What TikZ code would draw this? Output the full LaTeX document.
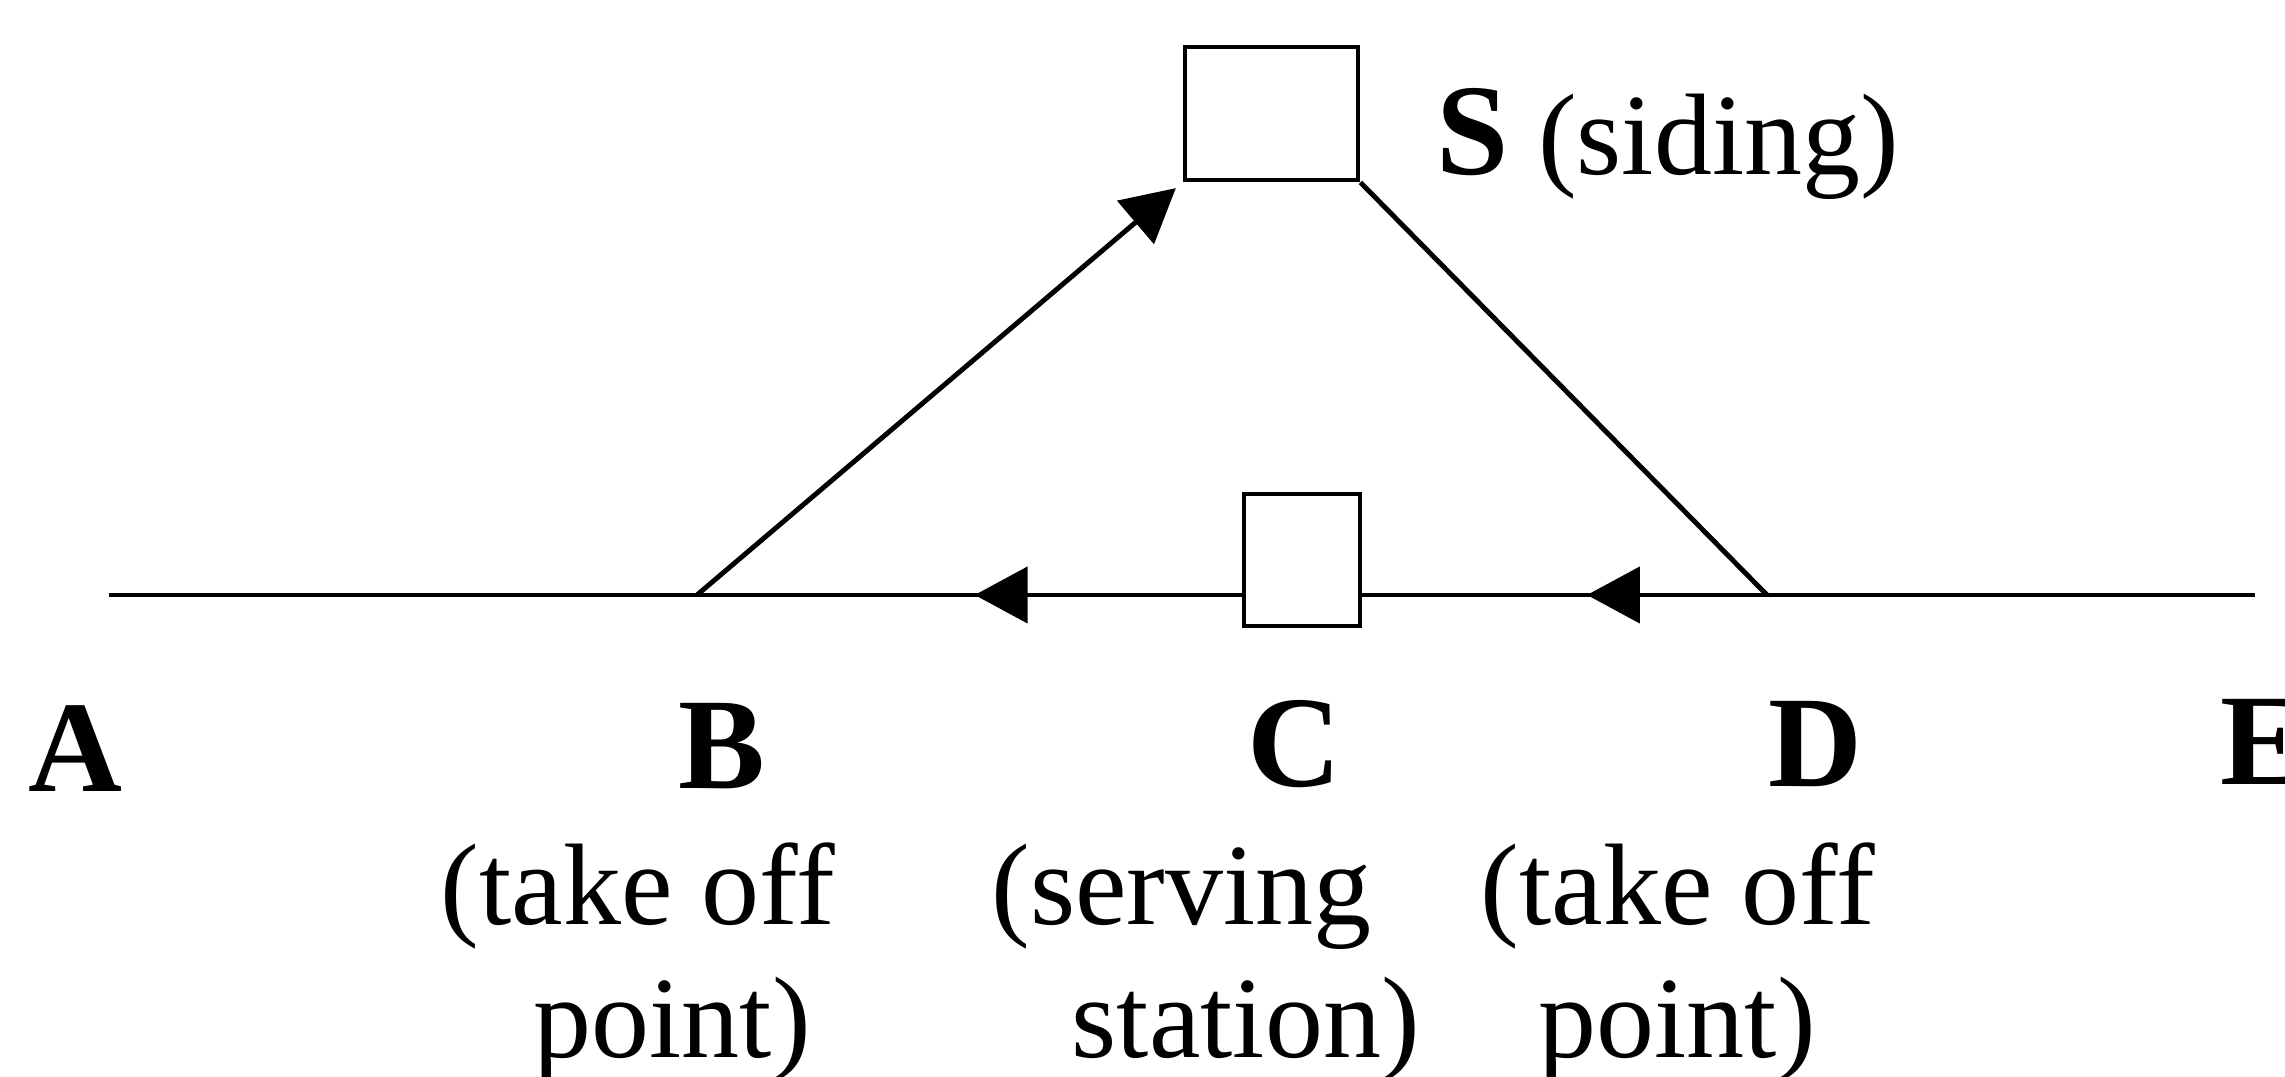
\documentclass[tikz,border=0pt]{standalone}
\usepackage{fontspec}
\setmainfont{Liberation Serif}
\usetikzlibrary{arrows.meta,decorations.markings}

\newcommand\ptfont{\fontsize{37}{40}\selectfont\bfseries}
\newcommand\notefont{\fontsize{33}{38}\selectfont}

\tikzset{
  track/.style={line width=1.4pt},
  stopbox/.style={draw,line width=1.4pt,fill=white,inner sep=0pt},
  ptlabel/.style={anchor=base,inner sep=0pt,font=\ptfont},
  notelabel/.style={anchor=base west,inner sep=0pt,align=left,font=\notefont},
  midarrow/.style={postaction={decorate},
    decoration={markings,mark=at position #1 with {\arrow{Triangle[length=0.53cm,width=0.56cm]}}}}
}

\begin{document}
\begin{tikzpicture}
                    \useasboundingbox (0,0) rectangle (22.85,10.77);

                    % main line and the two take off points
                    \coordinate (trackW) at (1.09,4.82);
                    \coordinate (junB) at (6.97,4.82);
                    \coordinate (junD) at (17.67,4.82);
                    \coordinate (trackE) at (22.55,4.82);

                    % siding and serving station
                    \node[stopbox,minimum width=1.73cm,minimum height=1.33cm] (sbox) at (12.715,9.635) {};
                    \node[stopbox,minimum width=1.16cm,minimum height=1.32cm] (cbox) at (13.02,5.17) {};

                    \draw[track] (trackW) -- (junB);
                    \draw[track,midarrow=0.49] (junB -| cbox.west) -- (junB);
                    \draw[track,midarrow=0.445] (junD) -- (junD -| cbox.east);
                    \draw[track] (junD) -- (trackE);

                    \draw[track,-{Triangle[length=0.53cm,width=0.56cm]},shorten >=2.5pt] (junB) -- (sbox.south west);
                    \draw[track] (sbox.south east) -- (junD);

                    % letters under the line
                    \node[ptlabel] (ptA) at (0.75,2.85) {A};
                    \node[ptlabel] (ptB) at (7.22,2.88) {B};
                    \node[ptlabel] (ptC) at (12.94,2.9) {C};
                    \node[ptlabel] (ptD) at (18.15,2.9) {D};
                    \node[ptlabel,anchor=base west] (ptE) at (22.2,2.92) {E};

                    \node[anchor=base west,inner sep=0pt,font=\notefont] (sidingtxt) at (14.36,9.02) {{\ptfont S} (siding)};

                    % base sits on the second line
                    \node[notelabel] (noteB) at (4.40,0.19) {(take off\\\hspace*{0.93cm}point)};
                    \node[notelabel] (noteC) at (9.91,0.19) {(serving\\\hspace*{0.80cm}station)};
                    \node[notelabel] (noteD) at (14.80,0.19) {(take off\\\hspace*{0.58cm}point)};
                \end{tikzpicture}
\end{document}
